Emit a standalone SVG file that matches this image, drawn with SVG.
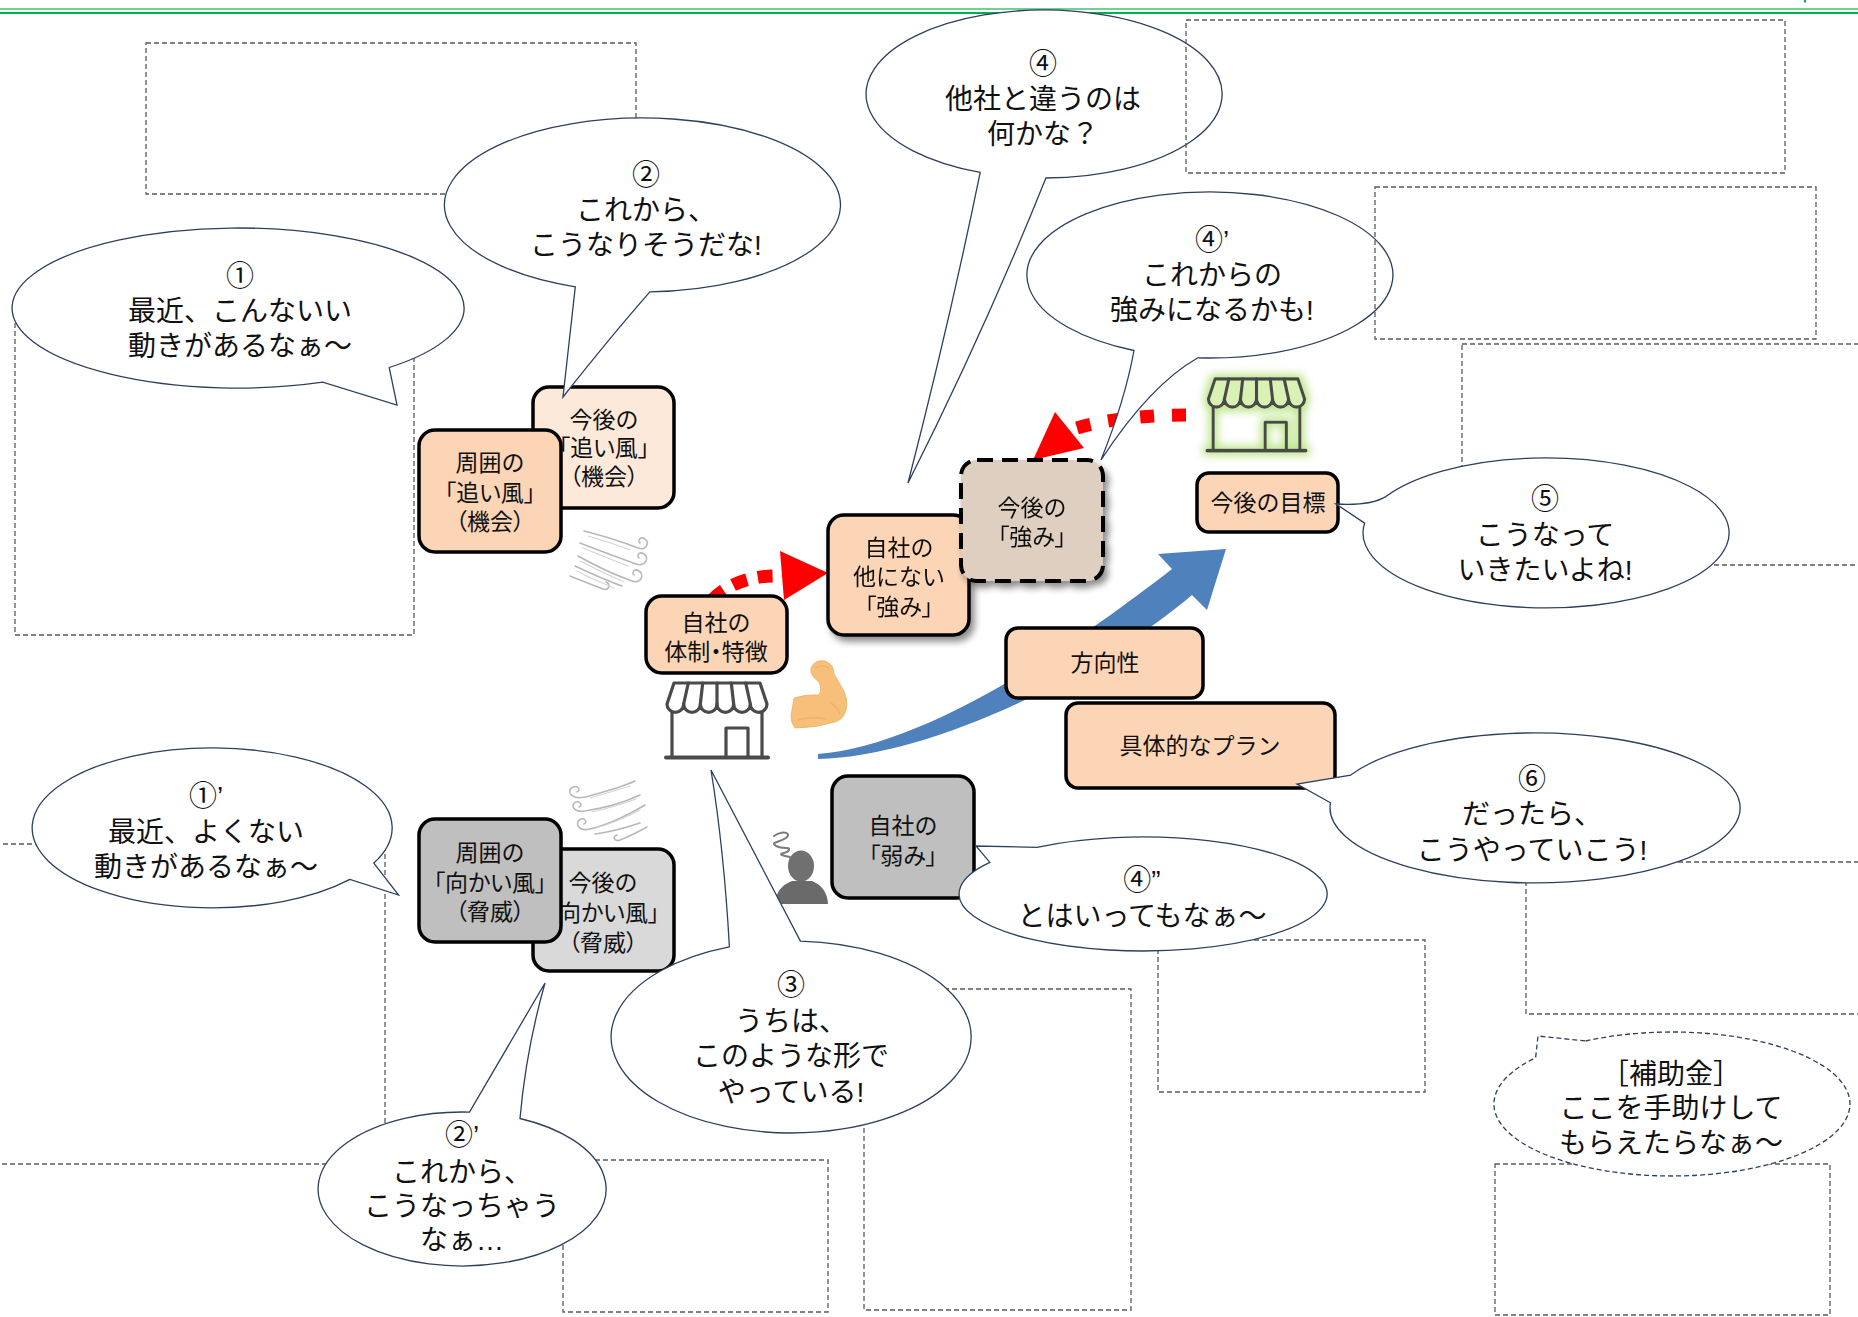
<svg xmlns="http://www.w3.org/2000/svg" width="1858" height="1317" viewBox="0 0 1858 1317">
<defs>
<style>
text{font-family:"Liberation Sans","Noto Sans CJK JP","Noto Sans CJK SC",sans-serif;fill:#111;text-anchor:middle;dominant-baseline:central}
.bt{font-size:28px}
.nt{font-size:23px}
.p{font-feature-settings:"palt" 1}
.frame{fill:none;stroke:#5a5a5a;stroke-width:1.3;stroke-dasharray:5 3}
.box{stroke:#000;stroke-width:3.5}
.peach{fill:#FBD5B5}
.callout{fill:#fff;stroke:#2E3F5E;stroke-width:1.3}
.callout-dash{fill:#fff;stroke:#2E3F5E;stroke-width:1.3;stroke-dasharray:5 3}
.wind{fill:none;stroke:#b8b8b8;stroke-width:1.6;stroke-linecap:round}
.wind2{fill:none;stroke:#d4d4d4;stroke-width:1.1;stroke-linecap:round}
.reddot{fill:none;stroke:#f00;stroke-width:13}
</style>
<filter id="shadow" x="-20%" y="-20%" width="150%" height="150%">
  <feGaussianBlur in="SourceAlpha" stdDeviation="3.5"/>
  <feOffset dx="4" dy="5" result="o"/>
  <feComponentTransfer><feFuncA type="linear" slope="0.45"/></feComponentTransfer>
  <feMerge><feMergeNode/><feMergeNode in="SourceGraphic"/></feMerge>
</filter>
<filter id="glow" x="-30%" y="-30%" width="160%" height="160%">
  <feMorphology in="SourceAlpha" operator="dilate" radius="3" result="d"/>
  <feGaussianBlur in="d" stdDeviation="4" result="b"/>
  <feFlood flood-color="#b9e283" flood-opacity="0.95"/>
  <feComposite in2="b" operator="in" result="g"/>
  <feMerge><feMergeNode in="g"/><feMergeNode in="SourceGraphic"/></feMerge>
</filter>
<!-- shop front pictogram: awning, walls, door, ground line -->
<symbol id="store" viewBox="0 0 104 80" overflow="visible">
  <g stroke="#4a4a4a" stroke-width="3.2" stroke-linejoin="round" stroke-linecap="round">
    <path d="M9,3 H95 L102,24 A8.33,8.33 0 0 1 85.33,24 A8.33,8.33 0 0 1 68.67,24 A8.33,8.33 0 0 1 52,24 A8.33,8.33 0 0 1 35.33,24 A8.33,8.33 0 0 1 18.67,24 A8.33,8.33 0 0 1 2,24 Z"/>
    <path fill="none" d="M23.3,3 L18.67,24 M37.7,3 L35.33,24 M52,3 V24 M66.3,3 L68.67,24 M80.7,3 L85.33,24"/>
    <path fill="none" d="M7,32 V76 M97,32 V76 M61,76 V48 H83 V76"/>
    <path fill="none" stroke-width="4" d="M1,77.5 H103"/>
  </g>
</symbol>
</defs>

<rect width="1858" height="1317" fill="#fff"/>

<!-- header rule -->
<g id="header">
  <line x1="0" y1="9" x2="1858" y2="9" stroke="#3EC46D" stroke-width="1.5"/>
  <line x1="0" y1="13" x2="1858" y2="13" stroke="#00B050" stroke-width="2.2"/>
  <line x1="1805" y1="0" x2="1805" y2="2.5" stroke="#00B050" stroke-width="2"/>
</g>

<!-- empty memo frames (behind callouts) -->
<g id="frames-back">
  <rect class="frame" x="146" y="43" width="490" height="151"/>
  <rect class="frame" x="15" y="300" width="399" height="335"/>
  <rect class="frame" x="1462" y="344" width="410" height="221"/>
  <rect class="frame" x="-5" y="844" width="390" height="320"/>
  <rect class="frame" x="563" y="1160" width="265" height="152"/>
  <rect class="frame" x="864" y="989" width="267" height="321"/>
  <rect class="frame" x="1158" y="940" width="267" height="152"/>
  <rect class="frame" x="1526" y="862" width="340" height="152"/>
  <rect class="frame" x="1495" y="1164" width="335" height="151"/>
</g>

<!-- connectors -->
<g id="connectors">
  <path id="growth-arrow" fill="#4F81BD" d="M818,759 C932,757 1102,672 1192,595 L1207,610 L1226,549 L1158,554 L1172,569 C1078,642 930,745 818,754 Z"/>
  <g id="strength-arrow">
    <path class="reddot" d="M712,600 Q738,574 783,576" stroke-dasharray="15 11"/>
    <polygon points="780,551 828,573 784,600" fill="#f00"/>
  </g>
  <g id="future-strength-arrow">
    <path class="reddot" d="M1186,415 C1150,415 1100,419 1068,431" stroke-dasharray="14 18" stroke-width="14"/>
    <polygon points="1055,412 1084,448 1033,460" fill="#f00"/>
  </g>
</g>

<!-- nodes -->
<g id="node-future-tailwind">
  <rect class="box" x="533" y="387" width="141" height="121" rx="16" fill="#FDE9D9"/>
  <text class="nt"><tspan x="604" y="420">今後の</tspan><tspan class="p" x="604" y="448">「追い風」</tspan><tspan class="p" x="604" y="477">（機会）</tspan></text>
</g>
<g id="node-tailwind">
  <rect class="box peach" x="419" y="430" width="142" height="122" rx="16"/>
  <text class="nt"><tspan x="490" y="463">周囲の</tspan><tspan class="p" x="490" y="493">「追い風」</tspan><tspan class="p" x="490" y="522">（機会）</tspan></text>
</g>
<g id="node-structure">
  <rect class="box peach" x="646" y="596" width="141" height="77" rx="16"/>
  <text class="nt"><tspan x="716" y="623">自社の</tspan><tspan class="p" x="716" y="652">体制・特徴</tspan></text>
</g>
<g id="node-strength" filter="url(#shadow)">
  <rect class="box peach" x="828" y="515" width="141" height="120" rx="16"/>
  <text class="nt"><tspan x="899" y="548">自社の</tspan><tspan x="899" y="577">他にない</tspan><tspan class="p" x="899" y="607">「強み」</tspan></text>
</g>
<g id="node-future-strength" filter="url(#shadow)">
  <rect x="961" y="460" width="142" height="121" rx="16" fill="#DFCFC1" stroke="#000" stroke-width="4" stroke-dasharray="16 9"/>
  <text class="nt"><tspan x="1032" y="508">今後の</tspan><tspan class="p" x="1032" y="537">「強み」</tspan></text>
</g>
<g id="node-goal">
  <rect class="box peach" x="1197" y="473" width="141" height="59" rx="12"/>
  <text class="nt" x="1268" y="503">今後の目標</text>
</g>
<g id="node-direction">
  <rect class="box peach" x="1006" y="628" width="197" height="70" rx="12"/>
  <text class="nt" x="1105" y="663">方向性</text>
</g>
<g id="node-plan">
  <rect class="box peach" x="1066" y="703" width="269" height="85" rx="12"/>
  <text class="nt" x="1200" y="746">具体的なプラン</text>
</g>
<g id="node-weakness">
  <rect class="box" x="832" y="776" width="142" height="122" rx="16" fill="#BFBFBF"/>
  <text class="nt"><tspan x="903" y="826">自社の</tspan><tspan class="p" x="903" y="856">「弱み」</tspan></text>
</g>
<g id="node-future-headwind">
  <rect class="box" x="533" y="849" width="141" height="122" rx="16" fill="#D9D9D9"/>
  <text class="nt"><tspan x="603" y="883">今後の</tspan><tspan class="p" x="603" y="913">「向かい風」</tspan><tspan class="p" x="603" y="943">（脅威）</tspan></text>
</g>
<g id="node-headwind">
  <rect class="box" x="419" y="819" width="142" height="123" rx="16" fill="#BFBFBF"/>
  <text class="nt"><tspan x="490" y="853">周囲の</tspan><tspan class="p" x="490" y="883">「向かい風」</tspan><tspan class="p" x="490" y="912">（脅威）</tspan></text>
</g>

<!-- pictograms -->
<g id="icon-store-now">
  <use href="#store" x="665" y="680" width="104" height="80" fill="#fff"/>
</g>
<g id="icon-store-future" filter="url(#glow)">
  <use href="#store" x="1205" y="376" width="103" height="77" fill="#d9f1b4"/>
</g>
<g id="icon-muscle">
  <path d="M811,668 Q815,659 825,661 Q834,664 834,674 L841,686 Q849,698 846,710 Q844,719 835,722 Q815,728 795,728 Q789,720 792,710 L794,698 Q806,694 819,695 Q823,688 818,681 Q810,676 811,668 Z" fill="#F6C07A" stroke="#F0B060" stroke-width="0.8"/>
  <path d="M798,720 Q812,716 826,719 M830,702 Q838,708 840,714 M815,668 Q822,664 829,668" fill="none" stroke="#EDA44F" stroke-width="1.2" opacity="0.6"/>
</g>
<g id="icon-wind-tail">
  <path class="wind" d="M584,531 C600,535 620,541 638,548 C646,551 650,543 645,539 C641,536 637,540 640,543"/>
  <path class="wind" d="M580,543 C600,551 620,558 636,564 C645,567 650,558 644,554 C640,551 636,555 639,558"/>
  <path class="wind" d="M578,556 C596,566 615,575 632,581 C641,584 645,575 639,571 C635,568 631,572 634,575"/>
  <path class="wind" d="M575,566 C590,573 605,580 622,586"/>
  <path class="wind" d="M570,576 C580,580 592,585 603,589 C609,591 611,584 606,582"/>
  <path class="wind2" d="M588,536 C605,541 620,546 630,550 M583,548 C600,555 615,561 628,566 M580,561 C595,569 610,576 624,582 M577,571 C590,578 602,583 614,588"/>
</g>
<g id="icon-wind-head">
  <path class="wind" d="M635,781 C620,788 600,793 585,797 C570,800 566,790 573,787 C578,785 581,790 577,792"/>
  <path class="wind" d="M640,795 C625,802 605,808 585,811 C573,813 570,804 576,802 C580,801 583,805 579,807"/>
  <path class="wind" d="M645,805 C628,815 608,825 590,829 C578,832 574,822 581,819 C585,818 588,822 584,824"/>
  <path class="wind" d="M640,823 C625,828 610,832 595,834"/>
  <path class="wind" d="M647,827 C638,832 628,837 620,840 C614,842 612,836 617,835"/>
  <path class="wind2" d="M630,786 C615,791 600,795 590,798 M636,799 C620,805 605,809 592,812 M640,810 C625,818 610,824 596,828"/>
</g>
<g id="icon-worried-person">
  <path d="M775,904 Q776,887 792,881 L812,881 Q827,887 828,904 Z" fill="#6a6a6a"/>
  <ellipse cx="801" cy="866" rx="13" ry="15.5" fill="#707070"/>
  <path d="M774,836 C784,830 792,833 786,838 C778,843 770,842 776,846 C784,850 790,846 789,850 C787,854 778,853 782,855 C786,857 791,856 790,858" fill="none" stroke="#7a7a7a" stroke-width="2" stroke-linecap="round"/>
</g>

<!-- speech callouts -->
<g id="callout-1">
  <path class="callout" d="M322.7,382.2 A226,80 0 1 1 389.2,367.5 L397,405 Z"/>
  <text class="bt"><tspan x="240" y="276">①</tspan><tspan x="240" y="311">最近、こんないい</tspan><tspan x="240" y="346">動きがあるなぁ～</tspan></text>
</g>
<g id="callout-2">
  <path class="callout" d="M575.3,286.8 A198,87 0 1 1 649.9,291.9 Q612,335 563,397 Z"/>
  <text class="bt"><tspan x="646" y="175">②</tspan><tspan x="646" y="210">これから、</tspan><tspan x="646" y="245">こうなりそうだな!</tspan></text>
</g>
<g id="callout-4">
  <path class="callout" d="M980.2,172.4 A178,84 0 1 1 1045.9,178 Q985,330 908,483 Q950,320 980.2,172.4 Z"/>
  <text class="bt"><tspan x="1043" y="64">④</tspan><tspan x="1043" y="99">他社と違うのは</tspan><tspan x="1043" y="134">何かな？</tspan></text>
</g>
<g id="callout-4a">
  <path class="callout" d="M1134,350.5 A183,83 0 1 1 1197.9,357.8 Q1150,385 1101,460 Q1125,400 1134,350.5 Z"/>
  <text class="bt"><tspan x="1212" y="240">④’</tspan><tspan x="1212" y="275">これからの</tspan><tspan x="1212" y="310">強みになるかも!</tspan></text>
</g>
<g id="callout-5">
  <path class="callout" d="M1385.9,496.6 A183,75 0 1 1 1364.6,523.1 L1336,504 Q1370,506 1385.9,496.6 Z"/>
  <text class="bt"><tspan x="1545" y="499">⑤</tspan><tspan x="1545" y="535">こうなって</tspan><tspan x="1545" y="570">いきたいよね!</tspan></text>
</g>
<g id="callout-6">
  <path class="callout" d="M1350.7,775.1 A205,75 0 1 1 1330.5,802.8 L1297,784 Z"/>
  <text class="bt"><tspan x="1532" y="779">⑥</tspan><tspan x="1532" y="814">だったら、</tspan><tspan x="1532" y="850">こうやっていこう!</tspan></text>
</g>
<g id="callout-4b">
  <path class="callout" d="M1037,847.4 A184,57 0 1 1 989.9,862.4 L976,846 Z"/>
  <text class="bt"><tspan x="1142" y="880">④”</tspan><tspan x="1142" y="916">とはいってもなぁ～</tspan></text>
</g>
<g id="callout-3">
  <path class="callout" d="M800.4,941.1 A180,96 0 1 1 729.4,946.8 Q724,850 711,770 Z"/>
  <text class="bt"><tspan x="791" y="985">③</tspan><tspan x="791" y="1021">うちは、</tspan><tspan x="791" y="1056">このような形で</tspan><tspan x="791" y="1092">やっている!</tspan></text>
</g>
<g id="callout-2a">
  <path class="callout" d="M520,1118.5 A144,77 0 1 1 469.5,1112.1 L545,983 Q526,1050 520,1118.5 Z"/>
  <text class="bt"><tspan x="462" y="1135">②’</tspan><tspan x="462" y="1172">これから、</tspan><tspan x="462" y="1206">こうなっちゃう</tspan><tspan x="462" y="1240">なぁ…</tspan></text>
</g>
<g id="callout-1a">
  <path class="callout" d="M349.9,879.4 A180,80 0 1 1 373.8,863.1 L398.6,895 Z"/>
  <text class="bt"><tspan x="206" y="796">①’</tspan><tspan x="206" y="832">最近、よくない</tspan><tspan x="206" y="867">動きがあるなぁ～</tspan></text>
</g>
<g id="callout-subsidy">
  <path class="callout-dash" d="M1585.7,1041 A178,72 0 1 1 1535.6,1057.7 L1538,1036 Z"/>
  <text class="bt"><tspan x="1671" y="1074">［補助金］</tspan><tspan x="1671" y="1108">ここを手助けして</tspan><tspan x="1671" y="1143">もらえたらなぁ～</tspan></text>
</g>

<!-- memo frames drawn over the upper callouts -->
<g id="frames-front">
  <rect class="frame" x="1186" y="20" width="599" height="153"/>
  <rect class="frame" x="1375" y="187" width="441" height="152"/>
</g>
</svg>
